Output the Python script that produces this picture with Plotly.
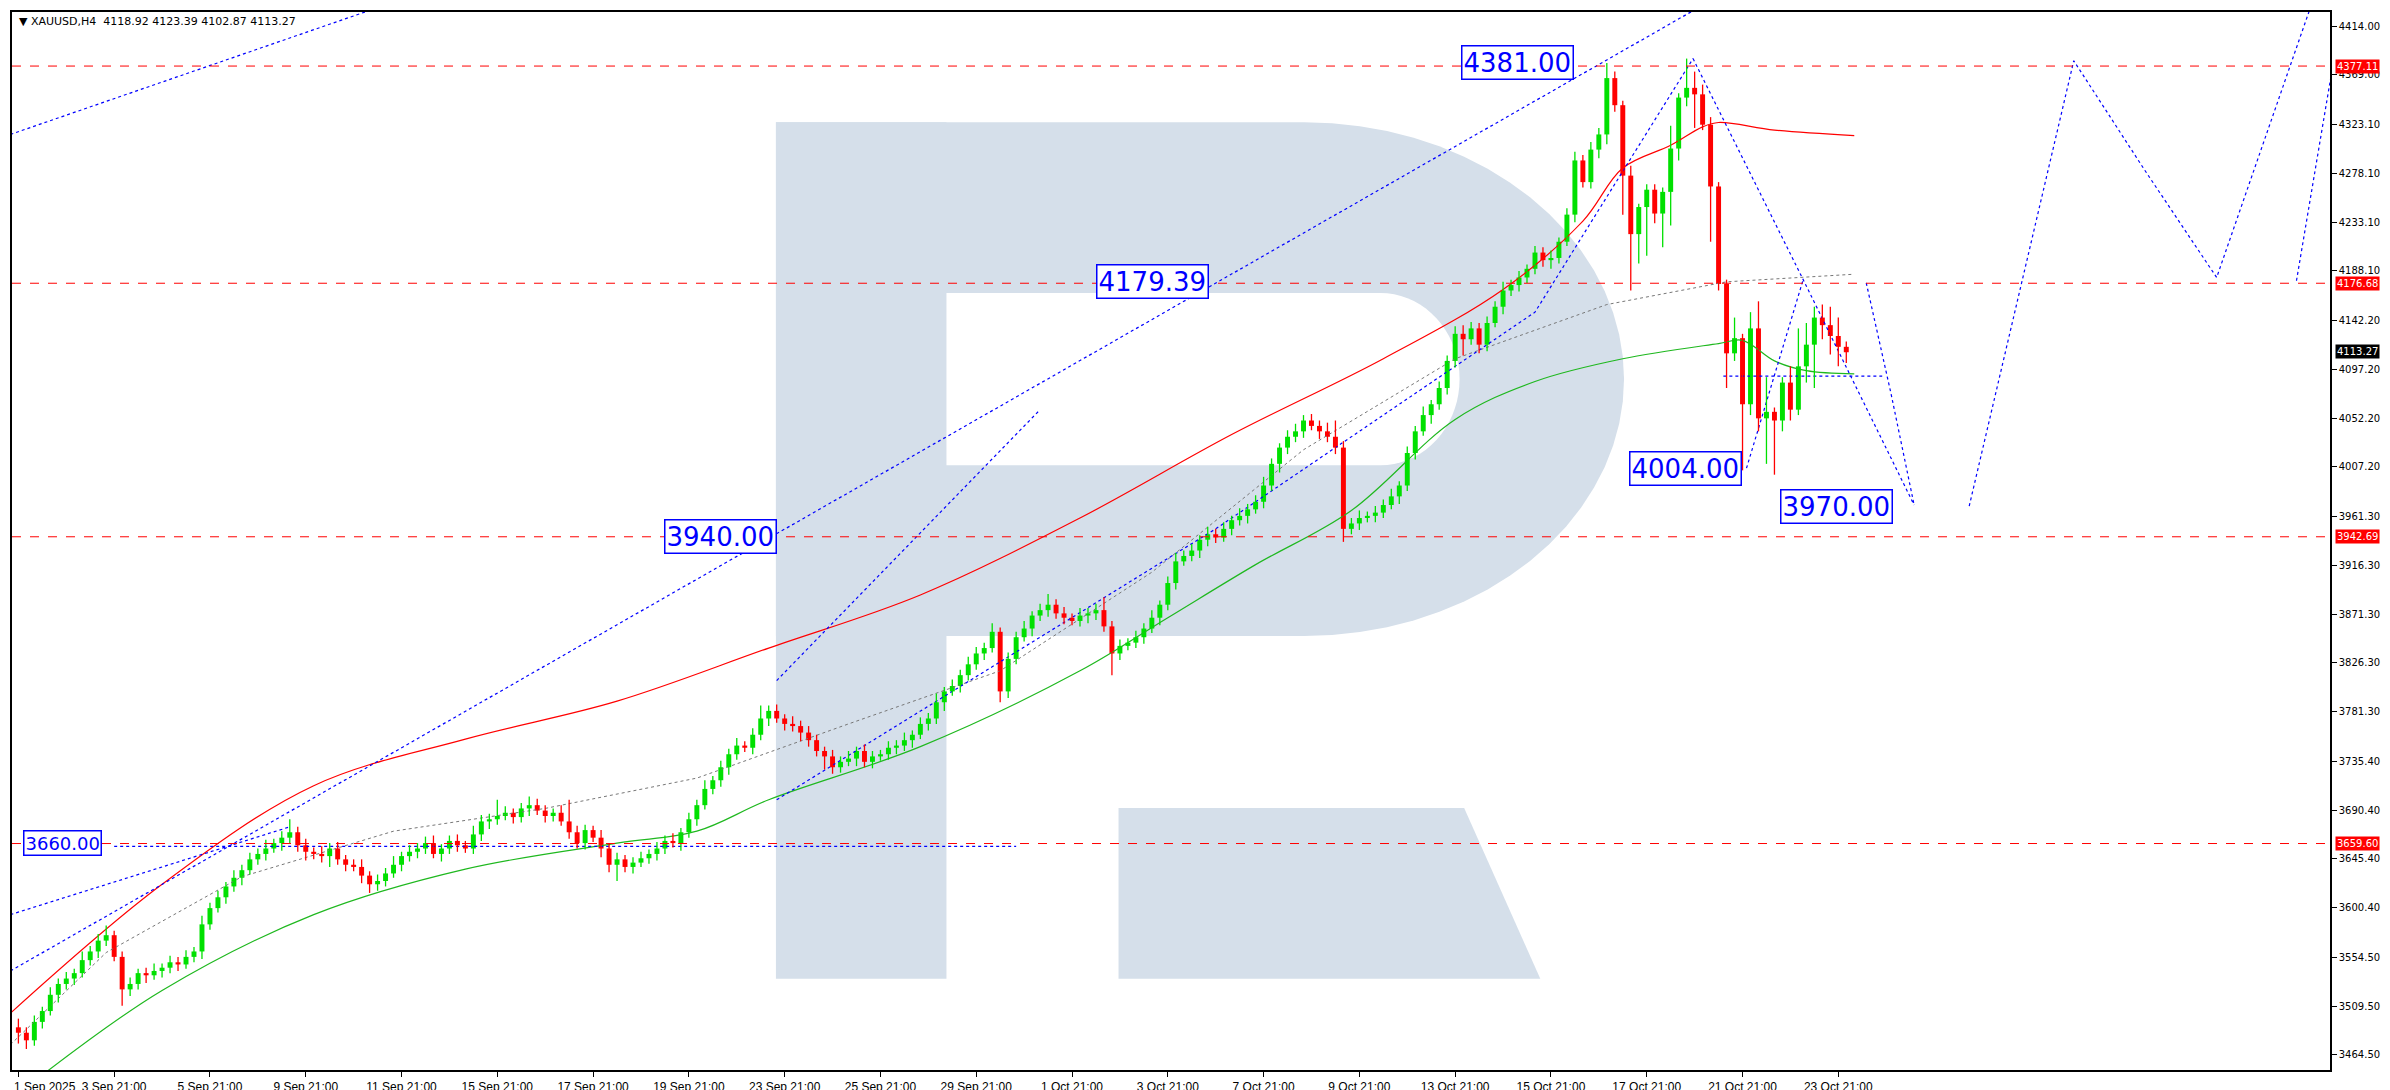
import plotly.graph_objects as go
import math

# ---------------- DATA ----------------
closes = [3485,3478,3495,3505,3520,3530,3535,3540,3552,3560,
          3570,3575,3555,3525,3530,3540,3538,3542,3545,3550,
          3548,3555,3560,3585,3600,3610,3620,3628,3635,3645,
          3650,3655,3660,3665,3670,3658,3652,3650,3648,3655,
          3645,3640,3638,3630,3622,3625,3632,3640,3648,3652,
          3655,3660,3650,3655,3662,3658,3655,3668,3680,3682,
          3685,3688,3684,3692,3695,3690,3685,3688,3680,3670,
          3660,3672,3665,3655,3640,3645,3638,3642,3646,3650,
          3655,3662,3660,3670,3682,3695,3710,3718,3730,3742,
          3750,3748,3760,3775,3782,3775,3770,3768,3762,3755,
          3745,3740,3730,3735,3738,3745,3735,3740,3742,3748,
          3750,3755,3760,3770,3775,3790,3800,3805,3815,3825,
          3835,3840,3855,3800,3830,3850,3858,3870,3875,3880,
          3872,3868,3865,3870,3872,3875,3860,3835,3842,3845,
          3850,3858,3868,3880,3900,3920,3925,3930,3940,3945,
          3942,3950,3958,3962,3968,3975,3990,4010,4025,4035,
          4040,4050,4045,4040,4035,4025,3950,3955,3960,3962,
          3965,3972,3980,3990,4020,4040,4055,4065,4080,4105,
          4130,4125,4135,4120,4140,4155,4170,4175,4182,4190,
          4205,4198,4200,4215,4240,4290,4270,4300,4314,4366,
          4341,4276,4222,4247,4263,4241,4261,4301,4348,4357,
          4351,4323,4266,4176,4112,4126,4065,4135,4052,4058,
          4050,4085,4060,4100,4120,4145,4138,4128,4118,4113]
first_open = 3490

upper_wick = [8,5,6,4,7,5,6,4,8,5, 6,9,4,5,6,4,5,7,4,6, 5,6,4,8,5,6,4,7,5,6,
              5,8,4,6,12,5,6,4,7,5, 6,4,5,7,4,6,5,8,4,6, 5,6,7,4,5,6,4,8,6,5,
              15,6,4,5,8,6,5,4,7,20, 6,5,4,7,5,6,4,5,6,4, 6,5,7,4,6,5,8,4,6,5,
              7,4,6,12,5,6,4,7,5,6, 5,4,6,5,7,4,6,5,4,6, 5,7,4,6,5,8,4,6,5,7,
              6,5,8,4,6,5,7,4,6,10, 5,6,4,7,5,6,12,5,6,4, 6,5,7,4,6,8,5,6,4,7,
              5,6,4,7,5,6,8,5,4,6, 7,5,6,5,8,15,6,5,7,4, 6,5,7,4,6,5,8,4,6,5,
              7,8,6,5,6,5,8,5,6,4, 6,5,7,4,6,8,5,7,6,
              14,6,4,9,3,5,5,4,21,4, 27,15,9,7,4,4,19,4,15,25,
              32,4,5,15,35,20,10,12,17,17,5]
lower_wick = [10,8,5,6,4,7,5,6,4,5, 6,5,4,15,6,5,7,4,6,5, 6,4,5,7,5,4,6,5,7,4,
              5,6,4,7,5,6,8,5,6,10, 5,6,4,7,8,6,5,4,6,5, 6,5,4,7,5,6,4,5,6,7,
              5,4,6,5,7,4,6,5,4,6, 5,6,4,8,7,15,5,6,4,5, 6,5,4,7,5,6,4,5,6,7,
              5,4,6,5,7,4,6,5,8,6, 5,12,6,5,4,7,5,6,4,5, 6,5,7,4,6,5,8,4,6,5,
              5,6,4,10,6,5,4,7,5,6, 5,6,4,5,7,6,5,20,6,4, 5,6,4,7,5,6,4,5,7,6,
              5,4,6,5,7,4,6,5,8,6, 5,6,4,7,5,6,12,5,6,4, 6,5,4,7,5,6,4,8,5,6,
              6,15,5,8,6,4,7,5,6,5, 5,6,8,5,4,7,5,6,8,
              9,6,36,52,27,45,9,31,31,11, 8,31,5,51,6,32,7,61,10,12,
              42,50,10,10,5,15,40,13,17,18,10]

x_labels = ["1 Sep 2025","3 Sep 21:00","5 Sep 21:00","9 Sep 21:00","11 Sep 21:00",
            "15 Sep 21:00","17 Sep 21:00","19 Sep 21:00","23 Sep 21:00","25 Sep 21:00",
            "29 Sep 21:00","1 Oct 21:00","3 Oct 21:00","7 Oct 21:00","9 Oct 21:00",
            "13 Oct 21:00","15 Oct 21:00","17 Oct 21:00","21 Oct 21:00","23 Oct 21:00"]
y_ticks = [4414.00,4369.00,4323.10,4278.10,4233.10,4188.10,4142.20,4097.20,4052.20,
           4007.20,3961.30,3916.30,3871.30,3826.30,3781.30,3735.40,3690.40,3645.40,
           3600.40,3554.50,3509.50,3464.50]

red_ma_x = [-1,18,37,56,75,94,113,133,152,171,186,196,201,207,211,213,220,230]
red_ma_y = [3503,3622,3713,3756,3791,3840,3889,3960,4037,4107,4171,4234,4283,4304,4321,4325,4318,4313]
green_ma_x = [3,18,37,56,75,85,94,113,133,144,155,167,180,190,201,213,216,220,224,230]
green_ma_y = [3446,3524,3594,3636,3660,3671,3700,3749,3819,3868,3917,3967,4051,4086,4107,4121,4124,4105,4096,4093]
grey_x = [-1,11,28,47,66,85,104,123,142,161,180,199,214,230]
grey_y = [3474,3559,3629,3671,3692,3720,3770,3819,3910,4023,4107,4157,4178,4185]

levels = [4377.11, 4176.68, 3942.69, 3659.60]
last_price = 4113.27

blue_lines = [
    [(-1, 4314), (45, 4431)],
    [(-1, 3542), (210, 4429)],
    [(-1, 3594), (34, 3675)],
    [(12, 3657), (125, 3657)],
    [(95, 3810), (128, 4060)],
    [(95, 3700), (150, 3950), (190, 4150), (209.8, 4384)],
    [(209.8, 4384), (223.6, 4180), (237.5, 3972)],
    [(216.5, 4006), (223.6, 4180)],
    [(231.5, 4177), (234.6, 4075), (237.5, 3972)],
    [(213.6, 4091), (233.5, 4091)],
    [(244.4, 3971), (257.5, 4382), (266.3, 4282), (275.4, 4182), (287, 4428)],
    [(285.4, 4179), (289.8, 4371)],
]
labels = [("4381.00", 187.8, 4380, 26), ("4179.39", 142.1, 4178, 26),
          ("3940.00", 88.0, 3943, 26), ("3660.00", 5.5, 3660, 18),
          ("4004.00", 208.8, 4006, 26), ("3970.00", 227.8, 3971, 26)]

# ---------------- FIGURE ----------------
opens = [first_open] + closes[:-1]
highs = [max(o, c) + u for o, c, u in zip(opens, closes, upper_wick)]
lows = [min(o, c) - l for o, c, l in zip(opens, closes, lower_wick)]
idx = list(range(len(closes)))

fig = go.Figure()

W, H = 2390, 1090
ML, MR, MT, MB = 2, 68, 4, 28
PW, PH = W - ML - MR, H - MT - MB

def P(dx, dy):
    rx, ry = dx * 1.524, dy * 1.524
    return (rx - ML) / PW, (H - MB - ry) / PH

def poly(pts):
    s = ""
    for i, (a, b) in enumerate(pts):
        px, py = P(a, b)
        s += ("M" if i == 0 else "L") + f"{px:.5f},{py:.5f} "
    return s + "Z"

wm = "#d5dfea"
shapes = []
shapes.append(dict(type="path", path=poly([(503, 75), (615, 75), (615, 637), (503, 637)])))
bowl = [(503, 75), (850, 75)]
for k in range(0, 37):
    a = -math.pi / 2 + math.pi * k / 36
    bowl.append((850 + 210 * math.cos(a), 243.5 + 168.5 * math.sin(a)))
bowl += [(850, 412), (503, 412)]
shapes.append(dict(type="path", path=poly(bowl)))
shapes.append(dict(type="path", path=poly([(728, 525), (955, 525), (1005, 637), (728, 637)])))
for s in shapes:
    s.update(xref="paper", yref="paper", fillcolor=wm, line=dict(width=0), layer="below")
hole = [(615, 187), (900, 187)]
for k in range(0, 37):
    a = -math.pi / 2 + math.pi * k / 36
    hole.append((900 + 52 * math.cos(a), 243.5 + 56.5 * math.sin(a)))
hole += [(900, 300), (615, 300)]
shapes.append(dict(type="path", path=poly(hole), xref="paper", yref="paper",
                   fillcolor="white", line=dict(width=0), layer="below"))

for lv in levels:
    shapes.append(dict(type="line", xref="paper", x0=0, x1=1, yref="y", y0=lv, y1=lv,
                       line=dict(color="#ff0000", width=1, dash="dash")))

fig.add_trace(go.Scatter(x=grey_x, y=grey_y, mode="lines", line=dict(color="#777777", width=1, dash="3px,3px"), hoverinfo="skip"))
fig.add_trace(go.Scatter(x=red_ma_x, y=red_ma_y, mode="lines", line=dict(color="#ff0000", width=1.2, shape="spline"), hoverinfo="skip"))
fig.add_trace(go.Scatter(x=green_ma_x, y=green_ma_y, mode="lines", line=dict(color="#1fb81f", width=1.2, shape="spline"), hoverinfo="skip"))
for ln in blue_lines:
    fig.add_trace(go.Scatter(x=[p[0] for p in ln], y=[p[1] for p in ln], mode="lines",
                             line=dict(color="#0000ff", width=1.2, dash="3px,3px"), hoverinfo="skip"))

# candles: wicks + bodies
UP, DN = "#00e000", "#ff0000"
for col, cond in ((UP, lambda o, c: c >= o), (DN, lambda o, c: c < o)):
    wx, wy, bx, bb, bh = [], [], [], [], []
    for i, o, h, l, c in zip(idx, opens, highs, lows, closes):
        if cond(o, c):
            wx += [i, i, None]
            wy += [l, h, None]
            bx.append(i)
            bb.append(min(o, c))
            bh.append(max(abs(c - o), 1.2))
    fig.add_trace(go.Scatter(x=wx, y=wy, mode="lines", line=dict(color=col, width=1.3), hoverinfo="skip"))
    fig.add_trace(go.Bar(x=bx, base=bb, y=bh, width=0.62, marker=dict(color=col, line=dict(width=0)), hoverinfo="skip"))

ann = []
for t, bx, by, fs in labels:
    ann.append(dict(x=bx, y=by, xref="x", yref="y", text=t, showarrow=False,
                    font=dict(family="DejaVu Sans", size=fs, color="#0000ff"),
                    bgcolor="white", bordercolor="#0000ff", borderwidth=1.5, borderpad=1))
for lv in levels:
    ann.append(dict(x=1.002, y=lv, xref="paper", yref="y", xanchor="left", text=f"{lv:.2f}",
                    showarrow=False, font=dict(family="DejaVu Sans", size=10, color="white"),
                    bgcolor="#ff0000", borderpad=1))
ann.append(dict(x=1.002, y=last_price, xref="paper", yref="y", xanchor="left", text=f"{last_price:.2f}",
                showarrow=False, font=dict(family="DejaVu Sans", size=10, color="white"),
                bgcolor="#000000", borderpad=1))
ann.append(dict(x=0.002, y=0.999, xref="paper", yref="paper", xanchor="left", yanchor="top",
                text="▼ XAUUSD,H4  4118.92 4123.39 4102.87 4113.27", showarrow=False,
                font=dict(family="DejaVu Sans", size=11, color="#000000")))
ann.append(dict(x=0, y=-0.008, xref="paper", yref="paper", xanchor="left", yanchor="top",
                text=x_labels[0], showarrow=False,
                font=dict(family="Liberation Sans Narrow, Liberation Sans", size=12, color="black")))

fig.update_layout(
    width=W, height=H, margin=dict(l=ML, r=MR, t=MT, b=MB),
    plot_bgcolor="white", paper_bgcolor="white", showlegend=False, barmode="overlay",
    shapes=shapes, annotations=ann,
    xaxis=dict(range=[-0.8, 289.6], tickvals=[12 * i for i in range(len(x_labels))],
               ticktext=[""] + x_labels[1:],
               showgrid=False, zeroline=False,
               ticks="outside", ticklen=5, tickcolor="black",
               showline=True, linecolor="black", linewidth=1.5, mirror=True,
               tickfont=dict(family="Liberation Sans Narrow, Liberation Sans", size=12, color="black")),
    yaxis=dict(range=[3450.6, 4427], side="right", tickvals=y_ticks, ticktext=[f"{v:.2f}" for v in y_ticks],
               showgrid=False, zeroline=False, ticks="outside", ticklen=5, tickcolor="black",
               showline=True, linecolor="black", linewidth=1.5, mirror=True,
               tickfont=dict(family="DejaVu Sans", size=10, color="black")),
)
fig.write_html("out.html")
